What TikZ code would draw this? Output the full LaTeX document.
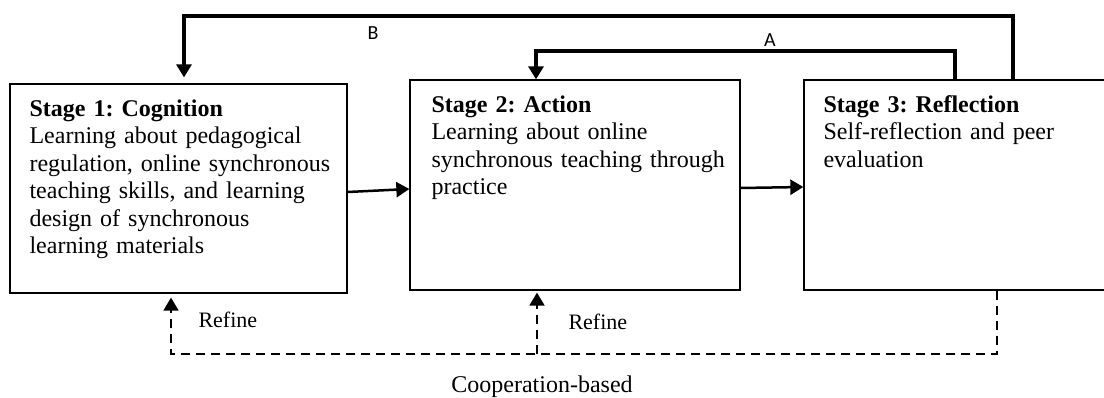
\documentclass[tikz,border=0pt]{standalone}
\usepackage{fontspec}
\setmainfont{Liberation Serif}
\newfontfamily\loopfont{Carlito}
\usetikzlibrary{arrows.meta}
\frenchspacing

\begin{document}
\begin{tikzpicture}[x=1pt, y=-1pt,
		stagebox/.style={draw, line width=1.3pt, inner sep=0pt},
		stagetext/.style={anchor=base west, inner sep=0pt, align=left, text width=#1,
			font=\fontsize{24}{27.5}\selectfont},
		tip/.style={-{Triangle[width=15pt,length=13pt]}},
		loopline/.style={tip, line width=4pt},
		steparrow/.style={tip, line width=2.5pt},
		refineline/.style={line width=1.8pt, dash pattern=on 9pt off 6pt},
		looplabel/.style={font=\loopfont\fontsize{20}{24}\selectfont},
		refinelabel/.style={anchor=west, font=\fontsize{22}{25}\selectfont}
	]
	\useasboundingbox (0,0) rectangle (1104,398);

	% the three stages
	\node[stagebox, minimum width=337pt, minimum height=209pt] (s1) at (178.5,188.5) {};
	\node[stagebox, minimum width=330pt, minimum height=210pt] (s2) at (575,185) {};
	\node[stagebox, minimum width=308pt, minimum height=210pt] (s3) at (958,185) {};

	\node[stagetext=310pt] (t1) at ([shift={(20,33)}]s1.north west)
		{\textbf{Stage 1: Cognition}\\Learning about pedagogical\\regulation, online synchronous\\teaching skills, and learning\\design of synchronous\\learning materials};
	\node[stagetext=300pt] (t2) at ([shift={(22,33)}]s2.north west)
		{\textbf{Stage 2: Action}\\Learning about online\\synchronous teaching through\\practice};
	\node[stagetext=280pt] (t3) at ([shift={(20,33)}]s3.north west)
		{\textbf{Stage 3: Reflection}\\Self-reflection and peer\\evaluation};

	\draw[steparrow]	([yshift=-3.5pt]s1.east) -- ([yshift=-4pt]s2.west);
	\draw[steparrow]	([yshift=-3pt]s2.east) -- ([yshift=-2pt]s3.west);

	% loops A and B back from stage 3
	\coordinate (bright) at (1013,16);
	\coordinate (bleft) at (184,16);
	\coordinate (aright) at (955,51);
	\coordinate (aleft) at (536,51);

	\draw[loopline, shorten >=6pt]	(s3.north -| bright) -- (bright) -- (bleft) -- (bleft |- s1.north);
	\draw[loopline]		(s3.north -| aright) -- (aright) -- (aleft) -- (aleft |- s2.north);
	\node[looplabel] (lb) at (373,33) {B};
	\node[looplabel] (la) at (770,40) {A};

	% refine loop
	\coordinate (dright) at (997,354);
	\coordinate (dleft) at (171,354);
	\coordinate (dmid) at (537,354);

	\draw[refineline, tip, shorten >=4pt]	(s3.south -| dright) -- (dright) -- (dleft) -- (dleft |- s1.south);
	\draw[refineline, tip, shorten >=2pt]	(dmid) -- (dmid |- s2.south);
	\node[refinelabel] (r1) at (195,320) {Refine};
	\node[refinelabel] (r2) at (565,322) {Refine};
	\node[font=\fontsize{24}{27.5}\selectfont] (coop) at (542,387) {Cooperation-based};
\end{tikzpicture}
\end{document}
